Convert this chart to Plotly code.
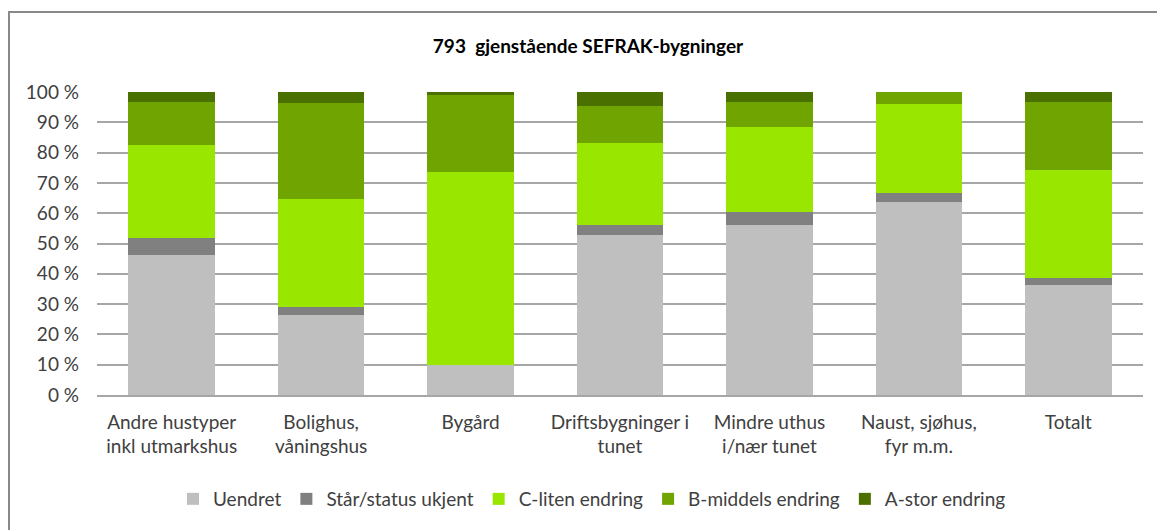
import plotly.graph_objects as go

categories = [
    "Andre hustyper<br>inkl utmarkshus",
    "Bolighus,<br>våningshus",
    "Bygård",
    "Driftsbygninger i<br>tunet",
    "Mindre uthus<br>i/nær tunet",
    "Naust, sjøhus,<br>fyr m.m.",
    "Totalt",
]
series_names = ["Uendret", "Står/status ukjent", "C-liten endring", "B-middels endring", "A-stor endring"]
uendret = [46.3, 26.4, 9.9, 52.8, 56.1, 63.7, 36.2]
staar = [5.5, 2.5, 0.0, 3.2, 4.2, 3.0, 2.5]
c_liten = [30.6, 35.8, 63.6, 27.3, 28.0, 29.2, 35.7]
b_middels = [14.4, 31.7, 25.5, 12.0, 8.5, 4.1, 22.4]
a_stor = [3.2, 3.6, 1.0, 4.7, 3.2, 0.0, 3.2]
colors = ["#BFBFBF", "#808080", "#99E600", "#70A400", "#4A7000"]
title_text = "793  gjenstående SEFRAK-bygninger"

FONT = "Lato, 'Open Sans', sans-serif"
FS = 19
W, H = 1157, 522
ML, MR, MT, MB = 89, 22, 84, 135
PW, PH = W - ML - MR, H - MT - MB

fig = go.Figure()
for name, vals, col in zip(series_names, [uendret, staar, c_liten, b_middels, a_stor], colors):
    fig.add_trace(go.Bar(x=categories, y=vals, name=name, marker=dict(color=col, line=dict(width=0))))

fig.update_layout(
    barmode="stack",
    bargap=0.42,
    width=W, height=H,
    margin=dict(l=ML, r=MR, t=MT, b=MB),
    paper_bgcolor="white", plot_bgcolor="white",
    font=dict(family=FONT, size=FS, color="#404040"),
    title=dict(text="<b>" + title_text + "</b>", x=(588 - 8) / W, xanchor="center", y=1 - 38 / H, yanchor="middle",
               font=dict(size=19, color="#000000", family=FONT)),
    legend=dict(orientation="h", x=(592 - 8 - ML) / PW, xanchor="center", y=-(491 - (MT + PH)) / PH, yanchor="middle",
                font=dict(size=FS, color="#404040"), traceorder="normal", itemwidth=30),
    xaxis=dict(showgrid=False, showline=True, linecolor="#A6A6A6", linewidth=1.5, ticks="",
               tickfont=dict(size=FS, color="#404040"), ticklabelstandoff=9),
    yaxis=dict(range=[0, 100], dtick=10, ticksuffix=" %", showgrid=True, gridcolor="#A6A6A6", gridwidth=1.5,
               zeroline=False, showline=False, tickfont=dict(size=FS, color="#404040"), ticklabelstandoff=17),
    shapes=[dict(type="rect", xref="paper", yref="paper", x0=(1 - ML) / PW, x1=(W + 20 - ML) / PW,
                 y0=-(H + 20 - (MT + PH)) / PH, y1=(MT + PH - 4) / PH, line=dict(color="#898989", width=2),
                 layer="below")],
)
fig.write_html("out.html")
